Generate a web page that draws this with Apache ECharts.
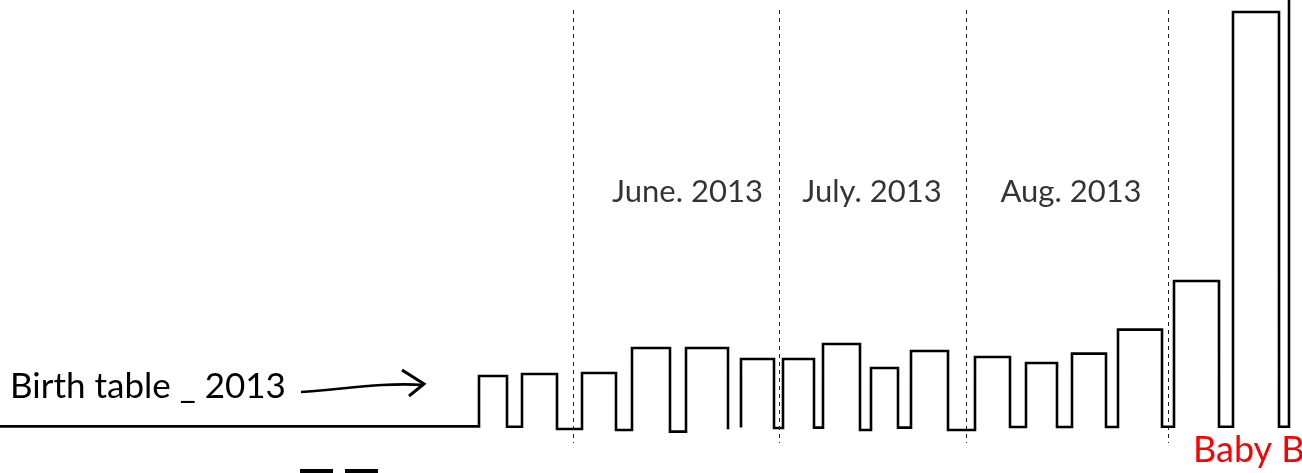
<!DOCTYPE html>
<html>
<head>
<meta charset="utf-8">
<script src="https://cdn.jsdelivr.net/npm/echarts@6/dist/echarts.min.js"></script>
<style>
html,body{margin:0;padding:0;background:#fff;}
#chart{width:1302px;height:473px;}
</style>
</head>
<body>
<div id="chart"></div>
<script>
// ---- data (x: timeline position, y: births level, arbitrary units) ----
const leadInLevel = 3.4;
const barStart  = [47.9, 52.2, 58.2, 63.2, 68.6, 74.1, 78.3, 82.3, 87.1, 91.1, 97.5, 102.6, 107.2, 111.8, 117.4, 123.3, 128.9];
const barEnd    = [50.7, 55.7, 61.6, 67.0, 72.8, 77.4, 81.4, 86.0, 89.8, 94.8, 101.0, 105.7, 110.6, 116.2, 121.9, 127.9, 134.0];
const barTop    = [16.0, 16.5, 16.75, 23.0, 23.0, 20.25, 20.25, 24.0, 18.0, 22.25, 20.75, 19.25, 21.6, 27.6, 39.75, 107.0, 125.0];
const lowAfter  = [3.3, 2.75, 2.5, 2.1, 2.7, 3.0, 3.1, 2.5, 3.1, 2.5, 3.25, 3.25, 3.25, 3.3, 3.3, 3.3, 3.3];
const breakAfter = 4;          // line is interrupted after this bar
const restartLevel = 3.1;      // level where the line resumes
const monthBounds = [57.35, 77.9, 96.6, 116.8];
const monthNames  = ['June. 2013', 'July. 2013', 'Aug. 2013'];
const monthLabelX = [68.75, 87.2, 107.1];
const monthLabelY = 62;
const dashTop = 107.5, dashBottom = -0.75;

// ---- build the stepped outline ----
const pts = [[0, leadInLevel]];
let level = leadInLevel;
for (let i = 0; i < barStart.length; i++) {
  pts.push([barStart[i], level]);
  pts.push([barStart[i], barTop[i]]);
  pts.push([barEnd[i], barTop[i]]);
  pts.push([barEnd[i], lowAfter[i]]);
  level = lowAfter[i];
  if (i === breakAfter) {
    pts.push(null);
    level = restartLevel;
  }
}
const lineData = pts.map(p => p === null ? ['-', '-'] : p);

const chart = echarts.init(document.getElementById('chart'), null, {renderer: 'canvas'});
const font = 'Lato, "Liberation Sans", sans-serif';
chart.setOption({
  animation: false,
  backgroundColor: '#fff',
  grid: {left: 0, right: 0, top: 0, bottom: 0},
  xAxis: {type: 'value', min: 0, max: 130.2, show: false},
  yAxis: {type: 'value', min: -8.25, max: 110, show: false},
  series: [
    {
      type: 'line',
      data: lineData,
      symbol: 'none',
      connectNulls: false,
      clip: true,
      lineStyle: {color: '#000', width: 2.6, join: 'miter', cap: 'butt'},
      z: 3,
      markLine: {
        silent: true,
        symbol: 'none',
        label: {show: false},
        lineStyle: {color: '#222', type: [4, 4], width: 1},
        data: monthBounds.map(x => [{coord: [x, dashTop]}, {coord: [x, dashBottom]}])
      }
    },
    {
      type: 'scatter',
      symbolSize: 0,
      data: monthNames.map((n, i) => ({name: n, value: [monthLabelX[i], monthLabelY]})),
      label: {
        show: true, position: 'inside', formatter: '{b}',
        color: '#000', fontSize: 31, fontFamily: font, fontWeight: 'normal'
      }
    }
  ],
  graphic: [
    {type: 'text', left: 10, top: 369, style: {text: 'Birth table _ 2013', fill: '#000', fontSize: 35, fontFamily: font, fontWeight: 'normal'}},
    {type: 'bezierCurve', shape: {x1: 301, y1: 392, x2: 424, y2: 385, cpx1: 340, cpy1: 390, cpx2: 380, cpy2: 382}, style: {stroke: '#000', lineWidth: 2.6, fill: null}},
    {type: 'polyline', shape: {points: [[402, 370], [424, 384], [409, 396]]}, style: {stroke: '#000', lineWidth: 3, fill: null}},
    {type: 'text', x: 1193, y: 432, style: {text: 'Baby Boom', fill: '#ff0000', fontSize: 36, fontFamily: font, fontWeight: 'normal', overflow: 'none'}},
    {type: 'rect', shape: {x: 300, y: 469, width: 33, height: 5}, style: {fill: '#000'}},
    {type: 'rect', shape: {x: 345, y: 469, width: 33, height: 5}, style: {fill: '#000'}}
  ]
});
</script>
</body>
</html>
